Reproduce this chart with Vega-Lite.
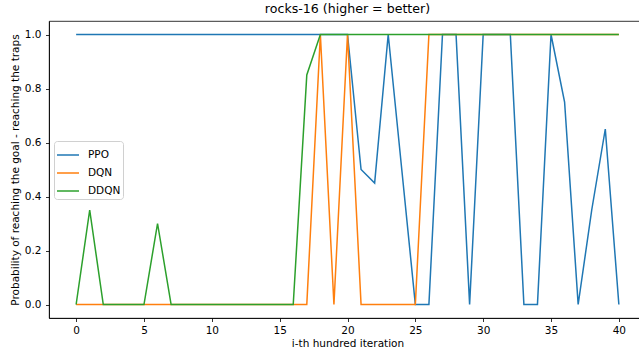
{
  "$schema": "https://vega.github.io/schema/vega-lite/v6.json",
  "autosize": {"type": "none"},
  "padding": {"left": 49, "top": 21, "right": 0, "bottom": 33},
  "width": 597,
  "height": 297,
  "background": "#ffffff",
  "title": {"text": "rocks-16 (higher = better)", "fontSize": 12.6, "font": "DejaVu Sans", "fontWeight": "normal", "color": "#000000", "anchor": "middle", "offset": 5},
  "config": {
    "view": {"stroke": "#000000", "strokeWidth": 0.8},
    "font": "DejaVu Sans",
    "axis": {
      "labelFont": "DejaVu Sans", "labelFontSize": 10.5, "labelColor": "#000000",
      "titleFont": "DejaVu Sans", "titleFontSize": 10.5, "titleFontWeight": "normal", "titleColor": "#000000",
      "tickColor": "#000000", "tickSize": 3.5, "tickWidth": 0.8,
      "domainColor": "#000000", "domainWidth": 0.8, "grid": false
    }
  },
  "data": {"values": [
    {"i": 0, "algo": "PPO", "p": 1}, {"i": 1, "algo": "PPO", "p": 1}, {"i": 2, "algo": "PPO", "p": 1}, {"i": 3, "algo": "PPO", "p": 1},
    {"i": 4, "algo": "PPO", "p": 1}, {"i": 5, "algo": "PPO", "p": 1}, {"i": 6, "algo": "PPO", "p": 1}, {"i": 7, "algo": "PPO", "p": 1},
    {"i": 8, "algo": "PPO", "p": 1}, {"i": 9, "algo": "PPO", "p": 1}, {"i": 10, "algo": "PPO", "p": 1}, {"i": 11, "algo": "PPO", "p": 1},
    {"i": 12, "algo": "PPO", "p": 1}, {"i": 13, "algo": "PPO", "p": 1}, {"i": 14, "algo": "PPO", "p": 1}, {"i": 15, "algo": "PPO", "p": 1},
    {"i": 16, "algo": "PPO", "p": 1}, {"i": 17, "algo": "PPO", "p": 1}, {"i": 18, "algo": "PPO", "p": 1}, {"i": 19, "algo": "PPO", "p": 1},
    {"i": 20, "algo": "PPO", "p": 1}, {"i": 21, "algo": "PPO", "p": 0.5}, {"i": 22, "algo": "PPO", "p": 0.45}, {"i": 23, "algo": "PPO", "p": 1},
    {"i": 24, "algo": "PPO", "p": 0.5}, {"i": 25, "algo": "PPO", "p": 0}, {"i": 26, "algo": "PPO", "p": 0}, {"i": 27, "algo": "PPO", "p": 1},
    {"i": 28, "algo": "PPO", "p": 1}, {"i": 29, "algo": "PPO", "p": 0}, {"i": 30, "algo": "PPO", "p": 1}, {"i": 31, "algo": "PPO", "p": 1},
    {"i": 32, "algo": "PPO", "p": 1}, {"i": 33, "algo": "PPO", "p": 0}, {"i": 34, "algo": "PPO", "p": 0}, {"i": 35, "algo": "PPO", "p": 1},
    {"i": 36, "algo": "PPO", "p": 0.75}, {"i": 37, "algo": "PPO", "p": 0}, {"i": 38, "algo": "PPO", "p": 0.35}, {"i": 39, "algo": "PPO", "p": 0.65},
    {"i": 40, "algo": "PPO", "p": 0},
    {"i": 0, "algo": "DQN", "p": 0}, {"i": 1, "algo": "DQN", "p": 0}, {"i": 2, "algo": "DQN", "p": 0}, {"i": 3, "algo": "DQN", "p": 0},
    {"i": 4, "algo": "DQN", "p": 0}, {"i": 5, "algo": "DQN", "p": 0}, {"i": 6, "algo": "DQN", "p": 0}, {"i": 7, "algo": "DQN", "p": 0},
    {"i": 8, "algo": "DQN", "p": 0}, {"i": 9, "algo": "DQN", "p": 0}, {"i": 10, "algo": "DQN", "p": 0}, {"i": 11, "algo": "DQN", "p": 0},
    {"i": 12, "algo": "DQN", "p": 0}, {"i": 13, "algo": "DQN", "p": 0}, {"i": 14, "algo": "DQN", "p": 0}, {"i": 15, "algo": "DQN", "p": 0},
    {"i": 16, "algo": "DQN", "p": 0}, {"i": 17, "algo": "DQN", "p": 0}, {"i": 18, "algo": "DQN", "p": 1}, {"i": 19, "algo": "DQN", "p": 0},
    {"i": 20, "algo": "DQN", "p": 1}, {"i": 21, "algo": "DQN", "p": 0}, {"i": 22, "algo": "DQN", "p": 0}, {"i": 23, "algo": "DQN", "p": 0},
    {"i": 24, "algo": "DQN", "p": 0}, {"i": 25, "algo": "DQN", "p": 0}, {"i": 26, "algo": "DQN", "p": 1}, {"i": 27, "algo": "DQN", "p": 1},
    {"i": 28, "algo": "DQN", "p": 1}, {"i": 29, "algo": "DQN", "p": 1}, {"i": 30, "algo": "DQN", "p": 1}, {"i": 31, "algo": "DQN", "p": 1},
    {"i": 32, "algo": "DQN", "p": 1}, {"i": 33, "algo": "DQN", "p": 1}, {"i": 34, "algo": "DQN", "p": 1}, {"i": 35, "algo": "DQN", "p": 1},
    {"i": 36, "algo": "DQN", "p": 1}, {"i": 37, "algo": "DQN", "p": 1}, {"i": 38, "algo": "DQN", "p": 1}, {"i": 39, "algo": "DQN", "p": 1},
    {"i": 40, "algo": "DQN", "p": 1},
    {"i": 0, "algo": "DDQN", "p": 0}, {"i": 1, "algo": "DDQN", "p": 0.35}, {"i": 2, "algo": "DDQN", "p": 0}, {"i": 3, "algo": "DDQN", "p": 0},
    {"i": 4, "algo": "DDQN", "p": 0}, {"i": 5, "algo": "DDQN", "p": 0}, {"i": 6, "algo": "DDQN", "p": 0.3}, {"i": 7, "algo": "DDQN", "p": 0},
    {"i": 8, "algo": "DDQN", "p": 0}, {"i": 9, "algo": "DDQN", "p": 0}, {"i": 10, "algo": "DDQN", "p": 0}, {"i": 11, "algo": "DDQN", "p": 0},
    {"i": 12, "algo": "DDQN", "p": 0}, {"i": 13, "algo": "DDQN", "p": 0}, {"i": 14, "algo": "DDQN", "p": 0}, {"i": 15, "algo": "DDQN", "p": 0},
    {"i": 16, "algo": "DDQN", "p": 0}, {"i": 17, "algo": "DDQN", "p": 0.85}, {"i": 18, "algo": "DDQN", "p": 1}, {"i": 19, "algo": "DDQN", "p": 1},
    {"i": 20, "algo": "DDQN", "p": 1}, {"i": 21, "algo": "DDQN", "p": 1}, {"i": 22, "algo": "DDQN", "p": 1}, {"i": 23, "algo": "DDQN", "p": 1},
    {"i": 24, "algo": "DDQN", "p": 1}, {"i": 25, "algo": "DDQN", "p": 1}, {"i": 26, "algo": "DDQN", "p": 1}, {"i": 27, "algo": "DDQN", "p": 1},
    {"i": 28, "algo": "DDQN", "p": 1}, {"i": 29, "algo": "DDQN", "p": 1}, {"i": 30, "algo": "DDQN", "p": 1}, {"i": 31, "algo": "DDQN", "p": 1},
    {"i": 32, "algo": "DDQN", "p": 1}, {"i": 33, "algo": "DDQN", "p": 1}, {"i": 34, "algo": "DDQN", "p": 1}, {"i": 35, "algo": "DDQN", "p": 1},
    {"i": 36, "algo": "DDQN", "p": 1}, {"i": 37, "algo": "DDQN", "p": 1}, {"i": 38, "algo": "DDQN", "p": 1}, {"i": 39, "algo": "DDQN", "p": 1},
    {"i": 40, "algo": "DDQN", "p": 1}
  ]},
  "mark": {"type": "line", "strokeWidth": 1.5, "clip": true},
  "encoding": {
    "x": {
      "field": "i", "type": "quantitative",
      "scale": {"domain": [-2, 42], "nice": false, "zero": false},
      "axis": {"values": [0, 5, 10, 15, 20, 25, 30, 35, 40], "title": "i-th hundred iteration", "labelPadding": 3.5, "titlePadding": 3, "labelFlush": false}
    },
    "y": {
      "field": "p", "type": "quantitative",
      "scale": {"domain": [-0.05, 1.05], "nice": false, "zero": false},
      "axis": {"values": [0, 0.2, 0.4, 0.6, 0.8, 1.0], "format": ".1f", "title": "Probability of reaching the goal - reaching the traps", "labelPadding": 4.5, "titlePadding": 4, "labelFlush": false}
    },
    "color": {
      "field": "algo", "type": "nominal",
      "scale": {"domain": ["PPO", "DQN", "DDQN"], "range": ["#1f77b4", "#ff7f0e", "#2ca02c"]},
      "legend": {
        "title": null, "orient": "none", "legendX": 5, "legendY": 120,
        "symbolType": "stroke", "symbolSize": 484, "symbolStrokeWidth": 1.5,
        "labelFont": "DejaVu Sans", "labelFontSize": 10.5, "labelColor": "#000000", "labelOffset": 8,
        "padding": 2, "rowPadding": -4,
        "fillColor": "rgba(255,255,255,0.8)", "strokeColor": "#d0d0d0", "cornerRadius": 3
      }
    }
  }
}
